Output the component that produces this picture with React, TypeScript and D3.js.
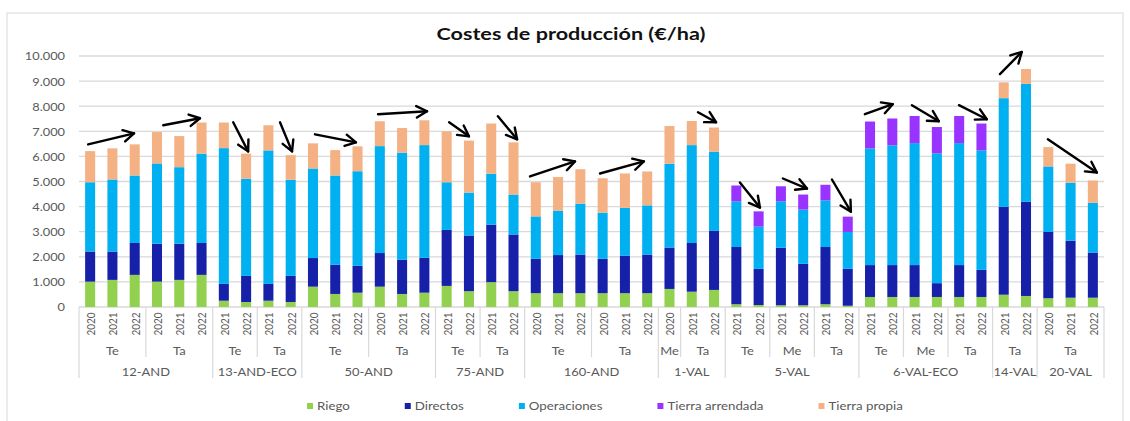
import React from "react";
import * as d3 from "d3";

const W = 1130;
const H = 421;

// Category levels, one entry per bar
const fincas = [
  "12-AND", "12-AND", "12-AND", "12-AND", "12-AND", "12-AND",
  "13-AND-ECO", "13-AND-ECO", "13-AND-ECO", "13-AND-ECO",
  "50-AND", "50-AND", "50-AND", "50-AND", "50-AND", "50-AND",
  "75-AND", "75-AND", "75-AND", "75-AND",
  "160-AND", "160-AND", "160-AND", "160-AND", "160-AND", "160-AND",
  "1-VAL", "1-VAL", "1-VAL",
  "5-VAL", "5-VAL", "5-VAL", "5-VAL", "5-VAL", "5-VAL",
  "6-VAL-ECO", "6-VAL-ECO", "6-VAL-ECO", "6-VAL-ECO", "6-VAL-ECO", "6-VAL-ECO",
  "14-VAL", "14-VAL",
  "20-VAL", "20-VAL", "20-VAL",
];
const tipos = [
  "Te", "Te", "Te", "Ta", "Ta", "Ta",
  "Te", "Te", "Ta", "Ta",
  "Te", "Te", "Te", "Ta", "Ta", "Ta",
  "Te", "Te", "Ta", "Ta",
  "Te", "Te", "Te", "Ta", "Ta", "Ta",
  "Me", "Ta", "Ta",
  "Te", "Te", "Me", "Me", "Ta", "Ta",
  "Te", "Te", "Me", "Me", "Ta", "Ta",
  "Ta", "Ta",
  "Ta", "Ta", "Ta",
];
const campanas = [
  "2020", "2021", "2022", "2020", "2021", "2022",
  "2021", "2022", "2021", "2022",
  "2020", "2021", "2022", "2020", "2021", "2022",
  "2021", "2022", "2021", "2022",
  "2020", "2021", "2022", "2020", "2021", "2022",
  "2020", "2021", "2022",
  "2021", "2022", "2021", "2022", "2021", "2022",
  "2021", "2022", "2021", "2022", "2021", "2022",
  "2021", "2022",
  "2020", "2021", "2022",
];

// Cost components (€/ha)
const riego = [
  1010, 1080, 1280, 1010, 1080, 1280,
  250, 200, 250, 200,
  810, 520, 570, 810, 520, 570,
  840, 630, 990, 630,
  550, 550, 550, 550, 550, 550,
  720, 610, 680,
  110, 80, 70, 70, 110, 50,
  400, 400, 400, 400, 400, 400,
  490, 440,
  350, 370, 370,
];
const directos = [
  1200, 1130, 1270, 1510, 1440, 1270,
  670, 1040, 670, 1040,
  1140, 1160, 1070, 1340, 1360, 1390,
  2230, 2220, 2290, 2260,
  1370, 1520, 1540, 1370, 1500, 1540,
  1650, 1940, 2350,
  2280, 1440, 2290, 1650, 2280, 1470,
  1270, 1270, 1270, 550, 1270, 1080,
  3500, 3750,
  2640, 2270, 1800,
];
const operaciones = [
  2760, 2870, 2690, 3200, 3050, 3560,
  5410, 3870, 5320, 3830,
  3570, 3560, 3770, 4260, 4270, 4490,
  1900, 1710, 2030, 1590,
  1690, 1770, 2030, 1840, 1900, 1960,
  3340, 3900, 3160,
  1820, 1680, 1850, 2160, 1860, 1470,
  4650, 4770, 4860, 5170, 4860, 4760,
  4330, 4700,
  2610, 2310, 1980,
];
const tierraArrendada = [
  0, 0, 0, 0, 0, 0,
  0, 0, 0, 0,
  0, 0, 0, 0, 0, 0,
  0, 0, 0, 0,
  0, 0, 0, 0, 0, 0,
  0, 0, 0,
  630, 610, 600, 600, 620, 610,
  1070, 1070, 1080, 1050, 1080, 1070,
  0, 0,
  0, 0, 0,
];
const tierraPropia = [
  1240, 1240, 1240, 1250, 1240, 1240,
  1020, 1000, 1000, 980,
  1000, 1010, 990, 990, 980, 990,
  2030, 2070, 2000, 2080,
  1360, 1340, 1370, 1370, 1370, 1350,
  1500, 960, 960,
  0, 0, 0, 0, 0, 0,
  0, 0, 0, 0, 0, 0,
  630, 590,
  770, 760, 890,
];

const seriesNames = ["Riego", "Directos", "Operaciones", "Tierra arrendada", "Tierra propia"];
const seriesValues = [riego, directos, operaciones, tierraArrendada, tierraPropia];
const seriesColors = ["#92D050", "#1620A8", "#00B0F0", "#9933FF", "#F4B183"];

const yTicks = [0, 1000, 2000, 3000, 4000, 5000, 6000, 7000, 8000, 9000, 10000];

// Trend arrows: [bar position, €/ha] from -> to
const trendArrows = [
  { from: [-0.09, 6480], to: [1.97, 6920] },
  { from: [3.28, 7240], to: [4.93, 7520] },
  { from: [6.42, 7360], to: [7.09, 6200] },
  { from: [8.52, 7360], to: [9.06, 6200] },
  { from: [10.09, 6880], to: [11.93, 6560] },
  { from: [12.92, 7680], to: [15.12, 7800] },
  { from: [16.11, 7360], to: [17.0, 6800] },
  { from: [18.3, 7600], to: [19.16, 6680] },
  { from: [19.74, 5200], to: [21.76, 5800] },
  { from: [22.88, 5320], to: [24.85, 5800] },
  { from: [27.28, 7760], to: [28.09, 7360] },
  { from: [29.16, 4960], to: [30.06, 3960] },
  { from: [31.09, 5120], to: [32.17, 4720] },
  { from: [33.29, 5080], to: [34.14, 3800] },
  { from: [34.77, 7680], to: [36.02, 8080] },
  { from: [36.88, 8040], to: [38.09, 7400] },
  { from: [38.99, 8040], to: [40.24, 7480] },
  { from: [40.83, 9280], to: [41.81, 10160] },
  { from: [42.98, 6680], to: [45.18, 5360] },
];

const FONT = "Lato, 'Open Sans', sans-serif";
const SX = 1.22; // horizontal stretch applied to the chart lettering
const TEXT = "#595959";
const GRID = "#D9D9D9";

const fmt = d3.formatLocale({ decimal: ",", thousands: ".", grouping: [3], currency: ["", "€"] }).format(",");

function measure(text: string, size: number, weight = "normal") {
  const c = document.createElement("canvas").getContext("2d");
  if (!c) return text.length * size * 0.5;
  c.font = `${weight} ${size}px Lato`;
  return c.measureText(text).width;
}

function SText(props: {
  x: number; y: number; size: number; anchor?: string; weight?: string; fill?: string; rotate?: number; children: string;
}) {
  const { x, y, size, anchor = "start", weight = "normal", fill = TEXT, rotate = 0, children } = props;
  return (
    <text
      transform={`translate(${x},${y}) scale(${SX},1)${rotate ? ` rotate(${rotate})` : ""}`}
      fontFamily={FONT}
      fontSize={size}
      fontWeight={weight}
      fill={fill}
      textAnchor={anchor}
      dominantBaseline="central"
    >
      {children}
    </text>
  );
}

export default function App() {
  const n = riego.length;
  const idx = d3.range(n);
  const left = 79;
  const right = 1104;
  const y0 = 307;
  const x = d3.scaleBand<number>().domain(idx).range([left, right]).paddingInner(0.55).paddingOuter(0.275);
  const y = d3.scaleLinear().domain([0, 10000]).range([y0, 56]);
  const step = x.step();
  const center = (i: number) => (x(i) as number) + x.bandwidth() / 2;
  const pos = d3.scaleLinear().domain([0, n - 1]).range([center(0), center(n - 1)]);

  const rows = idx.map((i) => {
    const r: any = { i };
    seriesNames.forEach((s, k) => (r[s] = seriesValues[k][i]));
    return r;
  });
  const stacked = d3.stack<any>().keys(seriesNames)(rows);

  // Boundaries between sub-groups and groups
  const edge = (i: number) => (x(i) as number) - (step - x.bandwidth()) / 2;
  const subLines: number[] = [];
  const groupLines: number[] = [edge(0), right];
  for (let i = 1; i < n; i++) {
    if (fincas[i] !== fincas[i - 1]) groupLines.push(edge(i));
    else if (tipos[i] !== tipos[i - 1]) subLines.push(edge(i));
  }

  // Label spans
  const spans = (key: (i: number) => string) => {
    const out: { label: string; a: number; b: number }[] = [];
    idx.forEach((i) => {
      const k = key(i);
      const last = out[out.length - 1];
      if (last && key(last.b) === k) last.b = i;
      else out.push({ label: k, a: i, b: i });
    });
    return out;
  };
  const subSpans = spans((i) => fincas[i] + "|" + tipos[i]).map((s) => ({ ...s, label: tipos[s.a] }));
  const groupSpans = spans((i) => fincas[i]);

  // Legend layout
  const legendSize = 10.9;
  let lx = 307;
  const legendItems = seriesNames.map((name, k) => {
    const item = { name, color: seriesColors[k], x: lx };
    lx += 10 + measure(name, legendSize) * SX + 55;
    return item;
  });

  const arrowHead = (p0: number[], p1: number[]) => {
    const ang = Math.atan2(p1[1] - p0[1], p1[0] - p0[0]);
    const len = 12;
    const spread = 0.5;
    const a1 = [p1[0] - len * Math.cos(ang - spread), p1[1] - len * Math.sin(ang - spread)];
    const a2 = [p1[0] - len * Math.cos(ang + spread), p1[1] - len * Math.sin(ang + spread)];
    return `M${a1[0]},${a1[1]}L${p1[0]},${p1[1]}L${a2[0]},${a2[1]}`;
  };

  return (
    <svg width={W} height={H} style={{ position: "absolute", left: 0, top: 0, background: "#fff" }}>
      <rect x={7} y={13} width={1116} height={430} fill="#fff" stroke={GRID} strokeWidth={1} />

      <SText x={571} y={33} size={17.7} weight="bold" anchor="middle" fill="#111">
        Costes de producción (€/ha)
      </SText>

      {yTicks.map((t) => (
        <g key={t}>
          <line x1={left} x2={right} y1={y(t)} y2={y(t)} stroke={GRID} strokeWidth={1.3} />
          <SText x={65} y={y(t)} size={10.5} anchor="end">
            {fmt(t)}
          </SText>
        </g>
      ))}

      {stacked.map((layer, k) => (
        <g key={layer.key} fill={seriesColors[k]}>
          {layer.map((d, i) =>
            d[1] - d[0] > 0 ? (
              <rect key={i} x={x(i)} width={x.bandwidth()} y={y(d[1])} height={y(d[0]) - y(d[1])} />
            ) : null
          )}
        </g>
      ))}

      {subLines.map((lxv, i) => (
        <line key={"s" + i} x1={lxv} x2={lxv} y1={y0} y2={357} stroke={GRID} strokeWidth={1.2} />
      ))}
      {groupLines.map((lxv, i) => (
        <line key={"g" + i} x1={lxv} x2={lxv} y1={y0} y2={378} stroke={GRID} strokeWidth={1.2} />
      ))}

      {idx.map((i) => (
        <SText key={"y" + i} x={center(i)} y={324} size={10} anchor="middle" rotate={-90}>
          {campanas[i]}
        </SText>
      ))}
      {subSpans.map((s, i) => (
        <SText key={"t" + i} x={(center(s.a) + center(s.b)) / 2} y={351} size={10.6} anchor="middle">
          {s.label}
        </SText>
      ))}
      {groupSpans.map((s, i) => (
        <SText key={"f" + i} x={(center(s.a) + center(s.b)) / 2} y={372} size={10.6} anchor="middle">
          {s.label}
        </SText>
      ))}

      {trendArrows.map((a, i) => {
        const p0 = [pos(a.from[0]), y(a.from[1])];
        const p1 = [pos(a.to[0]), y(a.to[1])];
        return (
          <g key={"a" + i} fill="none" stroke="#000" strokeWidth={2.4} strokeLinecap="round" strokeLinejoin="round">
            <line x1={p0[0]} y1={p0[1]} x2={p1[0]} y2={p1[1]} />
            <path d={arrowHead(p0, p1)} />
          </g>
        );
      })}

      {legendItems.map((it) => (
        <g key={it.name}>
          <rect x={it.x} y={403} width={6} height={6} fill={it.color} />
          <SText x={it.x + 10} y={406} size={legendSize}>
            {it.name}
          </SText>
        </g>
      ))}
    </svg>
  );
}
